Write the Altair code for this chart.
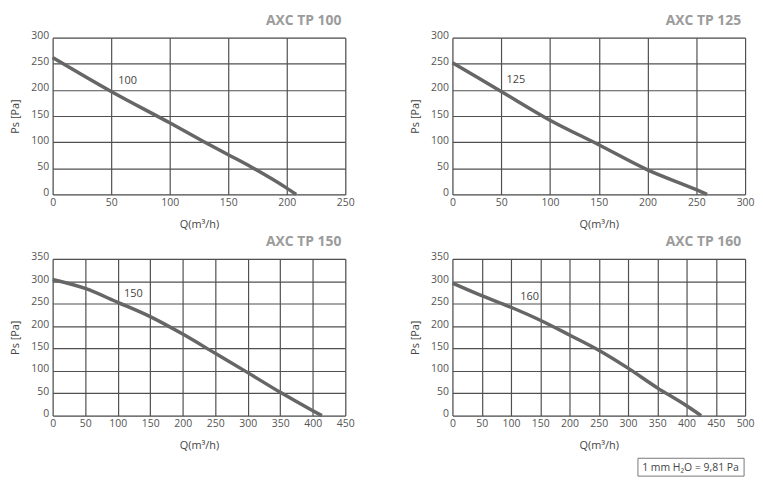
import altair as alt
import pandas as pd

# ---- data ----
titles = ["AXC TP 100", "AXC TP 125", "AXC TP 150", "AXC TP 160"]
curve_names = ["100", "125", "150", "160"]

q_100 = [0, 50, 100, 130, 150, 170, 200, 208]
ps_100 = [262, 197, 137, 100, 76, 52, 12, 0]

q_125 = [0, 50, 100, 150, 200, 250, 261]
ps_125 = [252, 197, 142, 95, 47, 9, 0]

q_150 = [0, 50, 100, 150, 200, 250, 300, 350, 400, 414]
ps_150 = [304, 284, 253, 221, 182, 139, 96, 52, 11, 0]

q_160 = [0, 50, 100, 150, 200, 250, 300, 350, 400, 425]
ps_160 = [296, 268, 242, 213, 180, 146, 106, 62, 22, 0]

# curve label positions (data coords)
label_q = [64, 65, 124, 132]
label_ps = [217, 219, 271, 265]

x_max = [250, 300, 450, 500]
y_max = [300, 300, 350, 350]

note_text = "1 mm H₂O = 9,81 Pa"

FONT = "Open Sans"
GRID = "#505050"
LINE = "#666666"

W, H = 295, 158


def axis(vals, title, orient):
    common = dict(values=vals, title=title, grid=True, domain=False, ticks=False,
                  gridColor=GRID, gridWidth=1.2, gridOpacity=1, labelOverlap=False,
                  labelFont=FONT, labelFontSize=10.5, labelColor="#555555",
                  titleFont=FONT, titleFontSize=11, titleFontWeight="normal",
                  titleColor="#444444")
    if orient == "x":
        return alt.Axis(labelPadding=3, titlePadding=11, labelFlush=False, **common)
    return alt.Axis(labelPadding=4, titlePadding=10, labelOffset=-2, **common)


def panel(i, qs, ps, note=False):
    df = pd.DataFrame({"q": qs, "ps": ps})
    xt = list(range(0, x_max[i] + 1, 50))
    yt = list(range(0, y_max[i] + 1, 50))
    xs = alt.Scale(domain=[0, x_max[i]], nice=False, zero=True)
    ys = alt.Scale(domain=[0, y_max[i]], nice=False, zero=True)
    xa = axis(xt, "Q(m³/h)", "x")
    ya = axis(yt, "Ps [Pa]", "y")
    line = alt.Chart(df).mark_line(color=LINE, strokeWidth=3.5, interpolate="monotone").encode(
        x=alt.X("q:Q", scale=xs, axis=xa),
        y=alt.Y("ps:Q", scale=ys, axis=ya),
    )
    ldf = pd.DataFrame({"q": [label_q[i]], "ps": [label_ps[i]], "t": [curve_names[i]]})
    lab = alt.Chart(ldf).mark_text(font=FONT, fontSize=11, color="#444444").encode(
        x=alt.X("q:Q", scale=xs, axis=xa), y=alt.Y("ps:Q", scale=ys, axis=ya), text="t:N"
    )
    layers = [line, lab]
    if note:
        box = alt.Chart(pd.DataFrame({"t": [note_text]})).mark_rect(
            fill="white", stroke="#777777", strokeWidth=1
        ).encode(x=alt.value(187), x2=alt.value(294), y=alt.value(201), y2=alt.value(219))
        txt = alt.Chart(pd.DataFrame({"t": [note_text]})).mark_text(
            font=FONT, fontSize=10.5, color="#444444"
        ).encode(x=alt.value(240), y=alt.value(211), text="t:N")
        layers += [box, txt]
    return alt.layer(*layers).properties(
        width=W, height=H,
        title=alt.TitleParams(titles[i], anchor="end", fontSize=14, fontWeight="bold",
                              color="#9b9b9b", font=FONT, offset=3, frame="group", dx=-4),
    )


c1 = panel(0, q_100, ps_100)
c2 = panel(1, q_125, ps_125)
c3 = panel(2, q_150, ps_150)
c4 = panel(3, q_160, ps_160, note=True)

chart = alt.vconcat(
    alt.hconcat(c1, c2, spacing=54),
    alt.hconcat(c3, c4, spacing=54),
    spacing=4,
).properties(
    padding={"left": 1, "top": 3, "right": 0, "bottom": 0}
).configure_view(stroke=GRID, strokeWidth=1.2).configure(background="white")

chart.save("out.html", embed_options={"renderer": "svg", "actions": False})
